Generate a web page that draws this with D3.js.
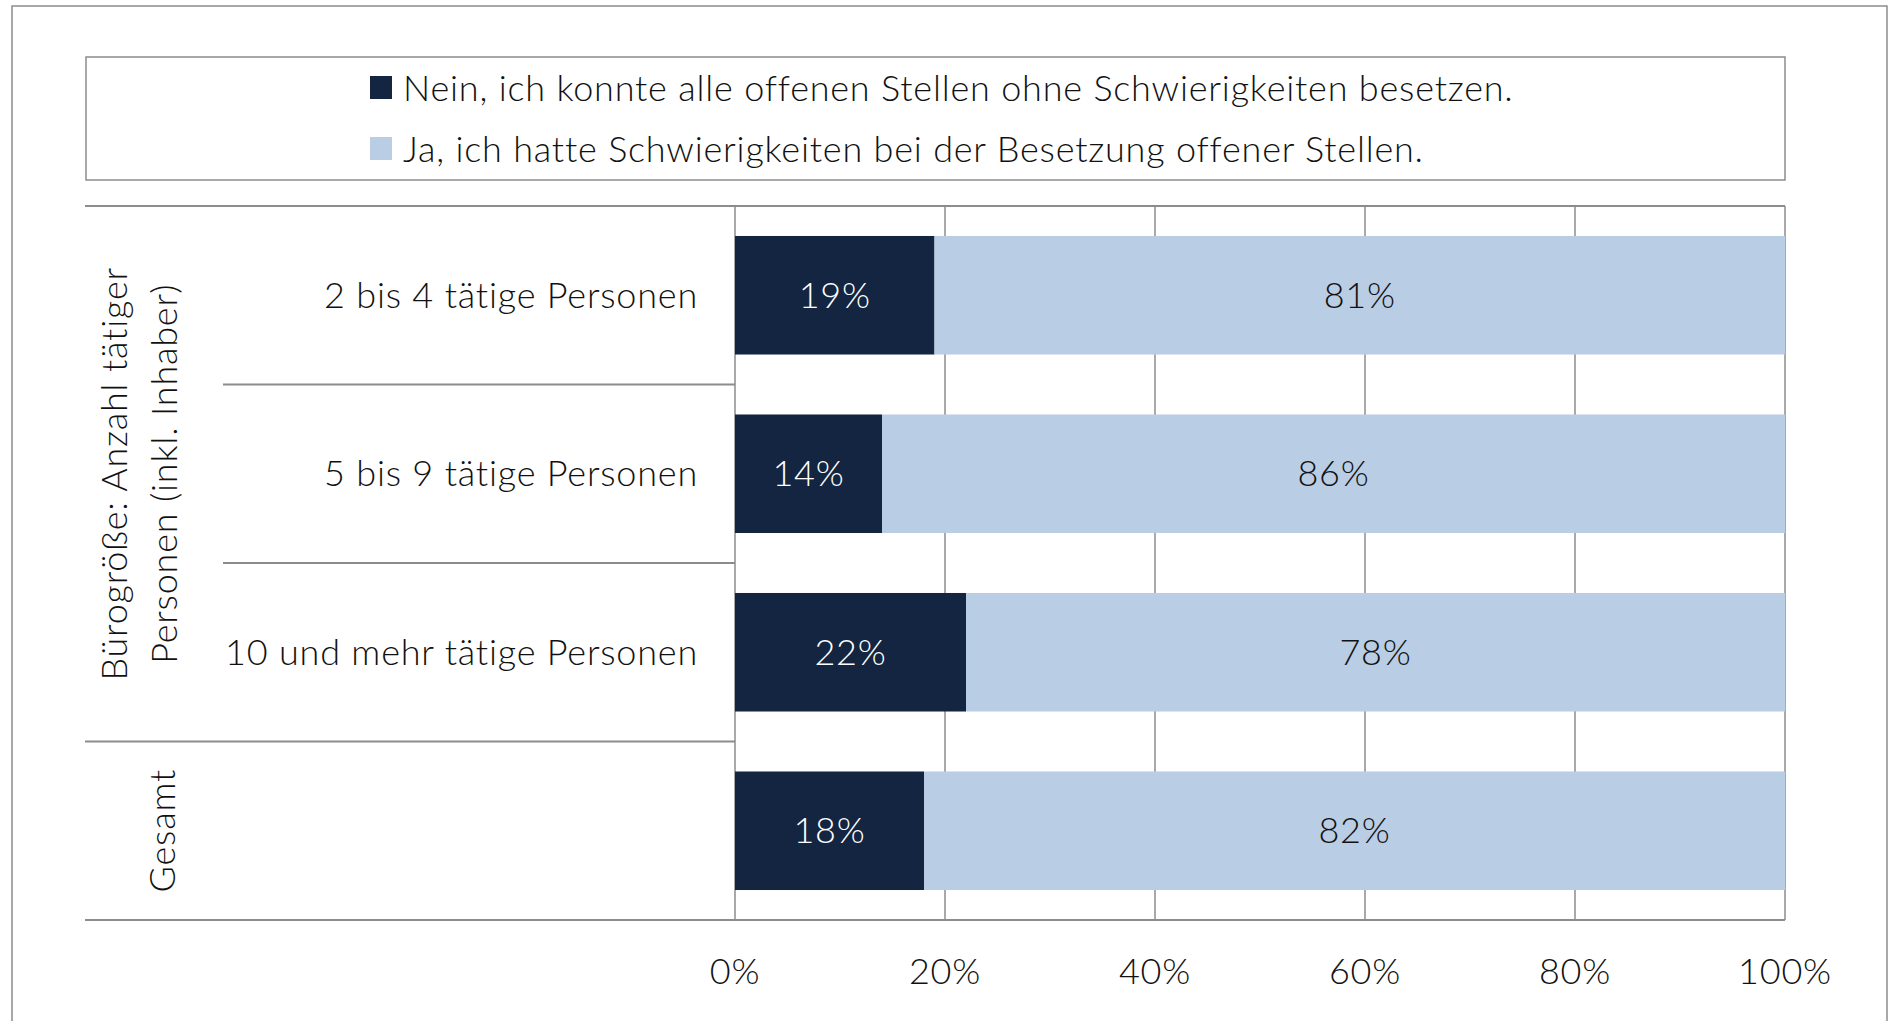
<!DOCTYPE html>
<html>
<head>
<meta charset="utf-8">
<script src="https://cdn.jsdelivr.net/npm/d3@7/dist/d3.min.js"></script>
<style>
    html, body { margin: 0; padding: 0; background: #fff; }
    svg text { font-family: Lato, "Open Sans", sans-serif; font-weight: 300; fill: #111; letter-spacing: 0.8px; }
</style>
</head>
<body>
<div id="chart"></div>
<script>

// rows (top to bottom)
let rowLabels = ['2 bis 4 tätige Personen', '5 bis 9 tätige Personen', '10 und mehr tätige Personen', 'Gesamt'];
let rowGroups = ['size', 'size', 'size', 'total'];

// series, in percent
let seriesNames = [
    'Nein, ich konnte alle offenen Stellen ohne Schwierigkeiten besetzen.',
    'Ja, ich hatte Schwierigkeiten bei der Besetzung offener Stellen.'
];
let neinValues = [19, 14, 22, 18];
let jaValues = [81, 86, 78, 82];

let xTicks = [0, 20, 40, 60, 80, 100];

let groupLabels = [
    { group: 'size', lines: ['Bürogröße: Anzahl tätiger', 'Personen (inkl. Inhaber)'] },
    { group: 'total', lines: ['Gesamt'] }
];

let colors = ['#132540', '#b9cde5'];
let labelColors = ['#ffffff', '#111111'];
let gridColor = '#8c8c8c';

let width = 1890,
    height = 1021,
    fontSize = '36px';

let svg = d3.select('#chart').append('svg')
    .attr('width', width)
    .attr('height', height);

// outer frame
svg.append('rect')
    .attr('x', 12).attr('y', 6)
    .attr('width', 1875).attr('height', 1040)
    .style('fill', 'none')
    .style('stroke', gridColor)
    .style('stroke-width', 1.5);

// legend box
let legend = svg.append('g').classed('legend', true);
legend.append('rect')
    .attr('x', 86).attr('y', 57)
    .attr('width', 1699).attr('height', 123)
    .style('fill', 'none')
    .style('stroke', gridColor)
    .style('stroke-width', 1.5);

let legendItem = legend.selectAll('.item')
    .data(seriesNames)
    .enter()
    .append('g')
    .classed('item', true)
    .attr('transform', function(d, i) { return 'translate(370,' + (88 + i * 61) + ')'; });

legendItem.append('rect')
    .attr('x', 0).attr('y', -12)
    .attr('width', 22).attr('height', 23)
    .style('fill', function(d, i) { return colors[i]; });

legendItem.append('text')
    .attr('x', 33)
    .attr('dy', '0.35em')
    .style('font-size', fontSize)
    .text(function(d) { return d; });

// plot area
let plotLeft = 735,
    plotRight = 1785,
    plotTop = 206,
    plotBottom = 920,
    tableLeft = 85,
    rowLabelLeft = 223;

let x = d3.scaleLinear().domain([0, 100]).range([plotLeft, plotRight]);
let y = d3.scaleBand()
    .domain(d3.range(rowLabels.length))
    .range([plotTop, plotBottom])
    .paddingInner(0.336)
    .paddingOuter(0.168);

// gridlines
svg.append('g').classed('grid', true)
    .selectAll('line')
    .data(xTicks)
    .enter()
    .append('line')
    .attr('x1', function(d) { return x(d); })
    .attr('x2', function(d) { return x(d); })
    .attr('y1', plotTop)
    .attr('y2', plotBottom)
    .style('stroke', gridColor)
    .style('stroke-width', 1.5);

// table lines on the left side
let step = y.step();
let hLines = [
    { y: plotTop, x1: tableLeft, x2: plotRight },
    { y: plotTop + step, x1: rowLabelLeft, x2: plotLeft },
    { y: plotTop + step * 2, x1: rowLabelLeft, x2: plotLeft },
    { y: plotTop + step * 3, x1: tableLeft, x2: plotLeft },
    { y: plotBottom, x1: tableLeft, x2: plotRight }
];
svg.append('g').classed('table-lines', true)
    .selectAll('line')
    .data(hLines)
    .enter()
    .append('line')
    .attr('x1', function(d) { return d.x1; })
    .attr('x2', function(d) { return d.x2; })
    .attr('y1', function(d) { return d.y; })
    .attr('y2', function(d) { return d.y; })
    .style('stroke', gridColor)
    .style('stroke-width', 1.8);

// stacked bars
let rows = rowLabels.map(function(d, i) {
    return { index: i, label: d, nein: neinValues[i], ja: jaValues[i] };
});
let stack = d3.stack().keys(['nein', 'ja']);
let series = stack(rows);

let layer = svg.append('g').classed('bars', true)
    .selectAll('g')
    .data(series)
    .enter()
    .append('g')
    .style('fill', function(d, i) { return colors[i]; });

layer.selectAll('rect')
    .data(function(d) { return d; })
    .enter()
    .append('rect')
    .attr('x', function(d) { return x(d[0]); })
    .attr('y', function(d) { return y(d.data.index); })
    .attr('width', function(d) { return x(d[1]) - x(d[0]); })
    .attr('height', y.bandwidth());

// value labels
series.forEach(function(s, si) {
    svg.append('g').classed('values', true)
        .selectAll('text')
        .data(s)
        .enter()
        .append('text')
        .attr('x', function(d) { return (x(d[0]) + x(d[1])) / 2; })
        .attr('y', function(d) { return y(d.data.index) + y.bandwidth() / 2; })
        .attr('dy', '0.35em')
        .attr('text-anchor', 'middle')
        .style('font-size', fontSize)
        .style('fill', labelColors[si])
        .text(function(d) { return (d[1] - d[0]) + '%'; });
});

// row labels
svg.append('g').classed('row-labels', true)
    .selectAll('text')
    .data(rows.filter(function(d) { return rowGroups[d.index] == 'size'; }))
    .enter()
    .append('text')
    .attr('x', 698)
    .attr('y', function(d) { return y(d.index) + y.bandwidth() / 2; })
    .attr('dy', '0.35em')
    .attr('text-anchor', 'end')
    .style('font-size', fontSize)
    .text(function(d) { return d.label; });

// group labels, rotated
groupLabels.forEach(function(g) {
    let idx = rowGroups.map(function(d, i) { return d == g.group ? i : -1; })
        .filter(function(i) { return i >= 0; });
    let cy = (plotTop + step * idx[0] + plotTop + step * (idx[idx.length - 1] + 1)) / 2;
    let lineGap = 50;
    let cx = g.lines.length > 1 ? 139 : 162;
    let t = svg.append('text')
        .attr('transform', 'translate(' + cx + ',' + cy + ') rotate(-90)')
        .attr('text-anchor', 'middle')
        .style('font-size', fontSize);
    g.lines.forEach(function(l, li) {
        t.append('tspan')
            .attr('x', 0)
            .attr('y', (li - (g.lines.length - 1) / 2) * lineGap)
            .attr('dy', '0.35em')
            .text(l);
    });
});

// x axis labels
svg.append('g').classed('x-axis', true)
    .selectAll('text')
    .data(xTicks)
    .enter()
    .append('text')
    .attr('x', function(d) { return x(d); })
    .attr('y', 971)
    .attr('dy', '0.35em')
    .attr('text-anchor', 'middle')
    .style('font-size', fontSize)
    .text(function(d) { return d + '%'; });

</script>
</body>
</html>
